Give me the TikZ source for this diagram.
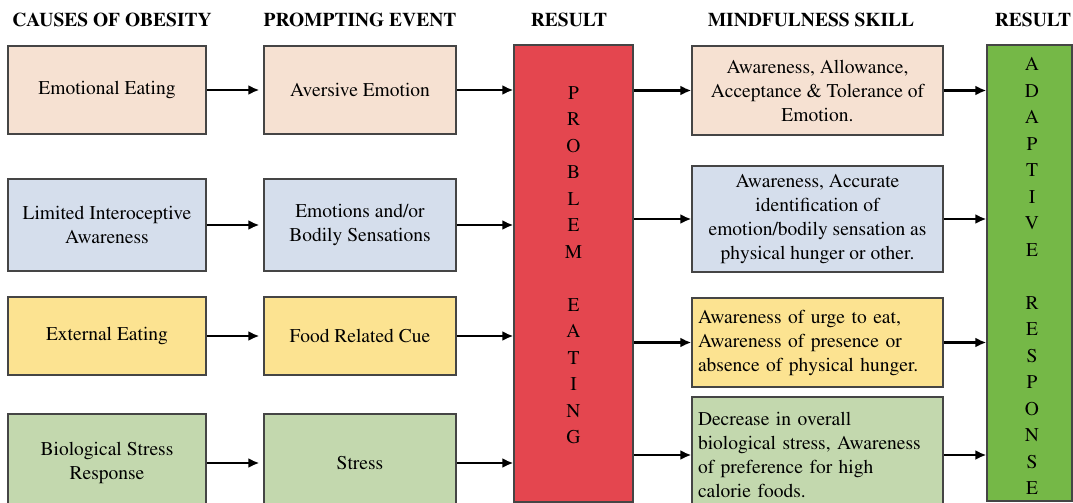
\documentclass[tikz,border=0pt]{standalone}
\usepackage[T1]{fontenc}
\renewcommand{\rmdefault}{ptm}
\usetikzlibrary{arrows.meta}
\definecolor{peach}{HTML}{F6E1D2}
\definecolor{paleblue}{HTML}{D5DEEC}
\definecolor{paleyellow}{HTML}{FCE391}
\definecolor{palegreen}{HTML}{C3D8AE}
\definecolor{barred}{HTML}{E4464F}
\definecolor{bargreen}{HTML}{75B847}
\definecolor{edge}{HTML}{454545}

\begin{document}
\begin{tikzpicture}[x=1pt,y=-1pt,
    box/.style={draw=edge,line width=1.3pt,inner sep=0pt,align=center,
      font=\fontsize{19.5}{24}\selectfont},
    causebox/.style={box,minimum width=198pt},
    eventbox/.style={box,minimum width=192pt},
    skillbox/.style={box,minimum width=251pt},
    leftskill/.style={skillbox,align=left,text width=239pt,inner xsep=6pt},
    head/.style={anchor=base,font=\fontsize{19.5}{24}\selectfont\bfseries},
    bar/.style={draw=edge,line width=1.3pt,inner sep=0pt},
    letters/.style={anchor=north,align=center,inner sep=0pt,
      font=\fontsize{19.5}{26.5}\selectfont},
    flow/.style={line width=2.6pt,-{Latex[length=11pt,width=10pt]}}]
  \clip (0,0) rectangle (1073,503);

  \node[head] (h1) at (112,26.8) {CAUSES OF OBESITY};
  \node[head] (h2) at (360,26.8) {PROMPTING EVENT};
  \node[head] (h3) at (569,26.8) {RESULT};
  \node[head] (h4) at (811,26.8) {MINDFULNESS SKILL};
  \node[head] (h5) at (1033,26.8) {RESULT};

  \node[causebox,fill=peach,minimum height=88pt] (cause1) at (107,90) {Emotional Eating};
  \node[causebox,fill=paleblue,minimum height=92pt] (cause2) at (107,225)
    {Limited Interoceptive\\Awareness};
  \node[causebox,fill=paleyellow,minimum height=78pt] (cause3) at (107,336) {External Eating};
  \node[causebox,fill=palegreen,minimum height=98pt] (cause4) at (107,463)
    {Biological Stress\\Response};

  \node[eventbox,fill=peach,minimum height=88pt] (event1) at (360,90) {Aversive Emotion};
  \node[eventbox,fill=paleblue,minimum height=92pt] (event2) at (360,225)
    {Emotions and/or\\Bodily Sensations};
  \node[eventbox,fill=paleyellow,minimum height=78pt] (event3) at (360,336) {Food Related Cue};
  \node[eventbox,fill=palegreen,minimum height=98pt] (event4) at (360,463) {Stress};

  \node[bar,fill=barred,minimum width=119pt,minimum height=457pt] (problem) at (573.5,273.5) {};
  \node[letters] (problemtext) at (573.5,86.5)
    {P\\R\\O\\B\\L\\E\\M\\[26.5pt]E\\A\\T\\I\\N\\G};

  \node[skillbox,fill=peach,minimum height=89pt] (skill1) at (817.5,90.5)
    {Awareness, Allowance,\\Acceptance \& Tolerance of\\Emotion.};
  \node[skillbox,fill=paleblue,minimum height=106pt] (skill2) at (817.5,219)
    {Awareness, Accurate\\identification of\\emotion/bodily sensation as\\physical hunger or other.};
  \node[leftskill,fill=paleyellow,minimum height=89pt] (skill3) at (817.5,342.5)
    {Awareness of urge to eat,\\Awareness of presence or\\absence of physical hunger.};
  \node[leftskill,fill=palegreen,minimum height=116pt] (skill4) at (817.5,455)
    {Decrease in overall\\biological stress, Awareness\\of preference for high\\calorie foods.};

  \node[bar,fill=bargreen,minimum width=85pt,minimum height=456pt] (adaptive) at (1029.5,273) {};
  \node[letters] (adaptivetext) at (1032,57.5)
    {A\\D\\A\\P\\T\\I\\V\\E\\[26.5pt]R\\E\\S\\P\\O\\N\\S\\E};

  \foreach \i in {1,...,4} {
    \draw[flow,shorten >=4pt] (cause\i) -- (event\i);
    \draw[flow] (event\i) -- (event\i -| problem.west);
    \draw[flow] (problem.east |- skill\i) -- (skill\i);
    \draw[flow] (skill\i) -- (skill\i -| adaptive.west);
  }
\end{tikzpicture}
\end{document}
